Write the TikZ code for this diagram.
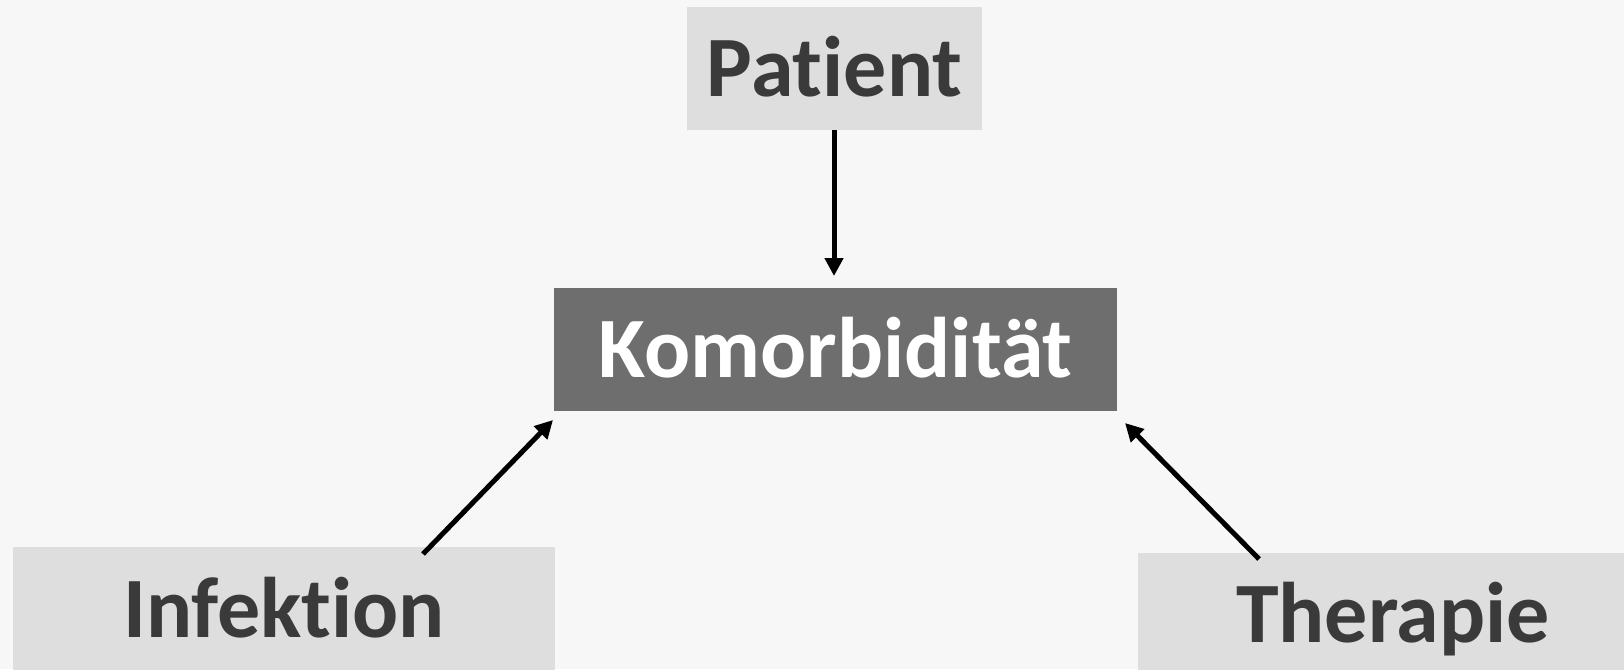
\documentclass[tikz,border=0pt]{standalone}
\usepackage{fontspec}
\setmainfont[Ligatures={NoCommon}]{Carlito}
\usetikzlibrary{arrows.meta}
\definecolor{bgc}{RGB}{247,247,247}
\definecolor{lightbox}{RGB}{222,222,222}
\definecolor{darkbox}{RGB}{110,110,110}
\definecolor{darktext}{RGB}{58,58,58}
\tikzset{
  boxbase/.style={rectangle, inner sep=0pt, text height=55pt, text depth=0pt,
    font=\fontsize{86}{100}\selectfont\bfseries},
  lightnode/.style={boxbase, fill=lightbox, text=darktext},
  darknode/.style={boxbase, fill=darkbox, text=white},
  conn/.style={line width=5pt, -{Triangle[length=18pt,width=18pt]}}
}
\begin{document}
\begin{tikzpicture}[x=1pt,y=-1pt]
\useasboundingbox (0,0) rectangle (1624,669);
\fill[bgc] (0,0) rectangle (1624,669);
\node[lightnode, minimum width=295pt, minimum height=123pt] (pat) at (834.5,68.5) {Patient};
\node[darknode, minimum width=563pt, minimum height=123pt] (kom) at (835.5,349.5) {Komorbidit\"at};
\node[lightnode, minimum width=542pt, minimum height=125pt] (inf) at (284,609.5) {Infektion};
\node[lightnode, minimum width=510pt, minimum height=124pt] (the) at (1393,615) {Therapie};
\coordinate (patend) at (834,276);
\coordinate (infstart) at (423,554);
\coordinate (infend) at (553,420);
\coordinate (thestart) at (1259,559);
\coordinate (theend) at (1125,423);
\draw[conn] (pat.south -| patend) -- (patend);
\draw[conn] (infstart) -- (infend);
\draw[conn] (thestart) -- (theend);
\end{tikzpicture}
\end{document}
